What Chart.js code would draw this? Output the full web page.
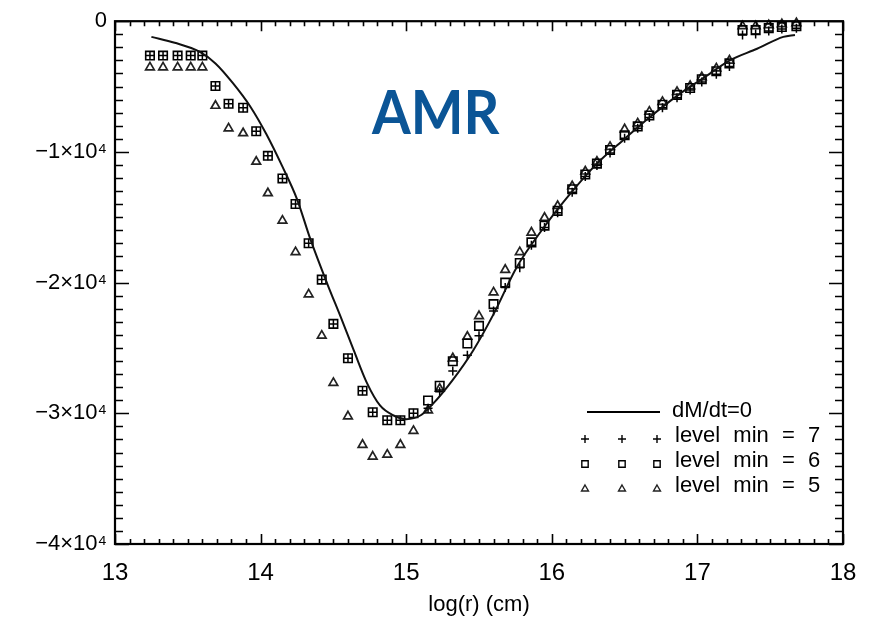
<!DOCTYPE html>
<html>
<head>
<meta charset="utf-8">
<script src="https://cdn.jsdelivr.net/npm/chart.js@4/dist/chart.umd.min.js"></script>
<style>
  html, body { margin: 0; padding: 0; background: #fff; }
  #wrap { width: 874px; height: 620px; position: relative; }
</style>
</head>
<body>
<div id="wrap"><canvas id="amrChart"></canvas></div>
<script>
// radial bins, log(r) in cm
const logR = [13.24, 13.33, 13.43, 13.52, 13.60, 13.69, 13.78, 13.88, 13.97, 14.05,
              14.15, 14.24, 14.33, 14.42, 14.50, 14.60, 14.70, 14.77, 14.87, 14.96,
              15.05, 15.15, 15.23, 15.32, 15.42, 15.50, 15.60, 15.68, 15.78, 15.86,
              15.95, 16.04, 16.14, 16.23, 16.31, 16.40, 16.50, 16.59, 16.67, 16.76,
              16.86, 16.95, 17.03, 17.13, 17.22, 17.31, 17.40, 17.49, 17.58, 17.68];

const levelMin7 = [-2630, -2630, -2630, -2630, -2630, -4960, -6320, -6620, -8420, -10300,
                   -12030, -13990, -16990, -19770, -23160, -25790, -28270, -29920, -30530, -30530,
                   -30000, -29620, -28350, -26770, -25560, -24060, -22180, -20380, -18870, -17140,
                   -15790, -14660, -13080, -11880, -11050, -10080, -8950, -8200, -7370, -6620,
                   -5860, -5260, -4660, -4060, -3460, -1050, -980, -750, -600, -530];

const levelMin6 = [-2630, -2630, -2630, -2630, -2630, -4960, -6320, -6620, -8420, -10300,
                   -12030, -13990, -16990, -19770, -23160, -25790, -28270, -29920, -30530, -30530,
                   -30000, -29020, -27890, -26020, -24660, -23310, -21650, -20000, -18500, -16920,
                   -15640, -14510, -12860, -11730, -10900, -9850, -8720, -8050, -7220, -6390,
                   -5640, -5110, -4440, -3830, -3230, -680, -680, -530, -450, -380];

const levelMin5 = [-3530, -3530, -3530, -3530, -3530, -6470, -8200, -8570, -10750, -13160,
                   -15260, -17670, -20900, -24060, -27670, -30230, -32410, -33310, -33160, -32410,
                   -31350, -29770, -28120, -25790, -24140, -22560, -20750, -19020, -17670, -16170,
                   -15040, -14140, -12630, -11500, -10750, -9620, -8270, -7820, -6920, -6170,
                   -5410, -4960, -4290, -3610, -3010, -380, -380, -300, -230, -150];

// dM/dt = 0 reference curve
const curveR  = [13.25, 13.41, 13.58, 13.69, 13.81, 13.93, 14.04, 14.15, 14.25, 14.34,
                 14.46, 14.55, 14.64, 14.73, 14.82, 14.91, 15.00, 15.10, 15.18, 15.32,
                 15.46, 15.60, 15.76, 15.94, 16.13, 16.31, 16.49, 16.67, 16.86, 17.04,
                 17.22, 17.41, 17.59, 17.67];
const curveDm = [-1200, -1650, -2330, -3230, -4740, -6540, -8650, -11130, -13610, -16620,
                 -20150, -22630, -25190, -27670, -29400, -30150, -30450, -30150, -29320, -27440,
                 -25190, -22410, -18800, -15860, -13160, -10900, -9100, -7370, -5710, -4360,
                 -3010, -2110, -1200, -1050];

const xTicks = [13, 14, 15, 16, 17, 18];
const yTicks = [0, -10000, -20000, -30000, -40000];

const FONT = '"Liberation Sans", Arial, Helvetica, sans-serif';

function pts(xs, ys) {
    return xs.map((x, i) => ({ x: x, y: ys[i] }));
}

function yLabel(v) {
    if (v === 0) return '0';
    return '\u2212' + Math.abs(v / 10000) + '\u00d710\u2074';
}

// IDL style frame with inward ticks on all four sides
const frameTicks = {
    id: 'frameTicks',
    afterDatasetsDraw(chart) {
        const ctx = chart.ctx;
        const a = chart.chartArea;
        const sx = chart.scales.x, sy = chart.scales.y;
        ctx.save();
        ctx.strokeStyle = '#000';
        ctx.lineWidth = 1.6;
        ctx.beginPath();
        for (let i = 0; i <= 50; i++) {
            const px = Math.round(sx.getPixelForValue(13 + i / 10)) + 0.5;
            const len = i % 10 === 0 ? 10 : 5;
            ctx.moveTo(px, a.bottom); ctx.lineTo(px, a.bottom - len);
            ctx.moveTo(px, a.top); ctx.lineTo(px, a.top + len);
        }
        for (let i = 0; i <= 40; i++) {
            const py = Math.round(sy.getPixelForValue(-i * 1000)) + 0.5;
            const len = i % 10 === 0 ? 14 : 8;
            ctx.moveTo(a.left, py); ctx.lineTo(a.left + len, py);
            ctx.moveTo(a.right, py); ctx.lineTo(a.right - len, py);
        }
        ctx.stroke();
        ctx.lineWidth = 2.2;
        ctx.strokeRect(a.left, a.top, a.right - a.left, a.bottom - a.top);
        ctx.restore();
    }
};

const legendBox = {
    id: 'legendBox',
    afterDraw(chart) {
        const ctx = chart.ctx;
        const a = chart.chartArea;
        const ds = chart.data.datasets;
        ctx.save();
        ctx.strokeStyle = '#000';
        ctx.font = '22px ' + FONT;
        ctx.textBaseline = 'alphabetic';
        if ('wordSpacing' in ctx) ctx.wordSpacing = '7px';

        // line row
        const lx0 = a.right - 256, lx1 = a.right - 183;
        ctx.lineWidth = 2;
        ctx.beginPath();
        ctx.moveTo(lx0, a.bottom - 132);
        ctx.lineTo(lx1, a.bottom - 132);
        ctx.stroke();
        ctx.fillStyle = '#000';
        ctx.fillText(ds[0].label, a.right - 171, a.bottom - 127);

        // marker rows
        const cols = [a.right - 258, a.right - 221, a.right - 186];
        for (let r = 1; r < ds.length; r++) {
            const base = a.bottom - 127 + r * 25;
            ctx.strokeStyle = ds[r].borderColor;
            for (const cx of cols) {
                ctx.fillStyle = 'rgba(0,0,0,0)';
                ctx.lineWidth = 1.4;
                Chart.helpers.drawPoint(ctx, {
                    pointStyle: ds[r].pointStyle,
                    radius: ds[r].pointStyle === 'rect' ? 4.5 : 4,
                    rotation: 0,
                    borderWidth: 1.4
                }, cx, base - 3);
            }
            ctx.fillStyle = '#000';
            ctx.fillText(ds[r].label, a.right - 168, base);
        }

        // annotation
        if ('wordSpacing' in ctx) ctx.wordSpacing = '0px';
        ctx.font = 'bold 62px Lato, "Open Sans", sans-serif';
        ctx.fillStyle = '#0b5596';
        ctx.translate(a.left + 257, a.top + 113);
        ctx.scale(0.9, 1);
        ctx.fillText('AMR', 0, 0);
        ctx.restore();
    }
};

const markerBase = {
    type: 'scatter',
    showLine: false,
    borderColor: '#000',
    backgroundColor: 'rgba(0,0,0,0)',
    clip: false
};

const ctx = document.getElementById('amrChart').getContext('2d');
const amrChart = new Chart(ctx, {
    type: 'scatter',
    data: {
        datasets: [
            {
                type: 'line',
                label: 'dM/dt=0',
                data: pts(curveR, curveDm),
                borderColor: '#111',
                borderWidth: 2,
                pointRadius: 0,
                cubicInterpolationMode: 'monotone',
                fill: false,
                clip: false
            },
            Object.assign({}, markerBase, {
                label: 'level min = 7',
                data: pts(logR, levelMin7),
                pointStyle: 'cross',
                pointRadius: 4.5,
                borderWidth: 1.5
            }),
            Object.assign({}, markerBase, {
                label: 'level min = 6',
                data: pts(logR, levelMin6),
                pointStyle: 'rect',
                pointRadius: 6,
                borderWidth: 1.6
            }),
            Object.assign({}, markerBase, {
                label: 'level min = 5',
                data: pts(logR, levelMin5),
                pointStyle: 'triangle',
                pointRadius: 5,
                borderWidth: 1.7,
                borderColor: '#222'
            })
        ]
    },
    options: {
        responsive: true,
        maintainAspectRatio: false,
        animation: false,
        events: [],
        layout: { padding: { top: 12, right: 31, left: 0, bottom: 0 } },
        plugins: {
            legend: { display: false },
            tooltip: { enabled: false }
        },
        scales: {
            x: {
                type: 'linear',
                min: 13,
                max: 18,
                grid: { display: false, drawTicks: false },
                border: { display: false },
                afterBuildTicks: s => { s.ticks = xTicks.map(v => ({ value: v })); },
                afterFit: s => { s.height = 76; },
                ticks: {
                    color: '#000',
                    padding: 15,
                    font: { family: FONT, size: 24 },
                    maxRotation: 0
                },
                title: {
                    display: true,
                    text: 'log(r) (cm)',
                    color: '#000',
                    font: { family: FONT, size: 22 },
                    padding: { top: 0, bottom: 2 }
                }
            },
            y: {
                type: 'linear',
                min: -40000,
                max: 0,
                grid: { display: false, drawTicks: false },
                border: { display: false },
                afterBuildTicks: s => { s.ticks = yTicks.map(v => ({ value: v })); },
                afterFit: s => { s.width = 115; },
                ticks: {
                    color: '#000',
                    padding: 8,
                    font: { family: FONT, size: 22 },
                    callback: v => yLabel(v)
                }
            }
        }
    },
    plugins: [frameTicks, legendBox]
});
</script>
</body>
</html>
